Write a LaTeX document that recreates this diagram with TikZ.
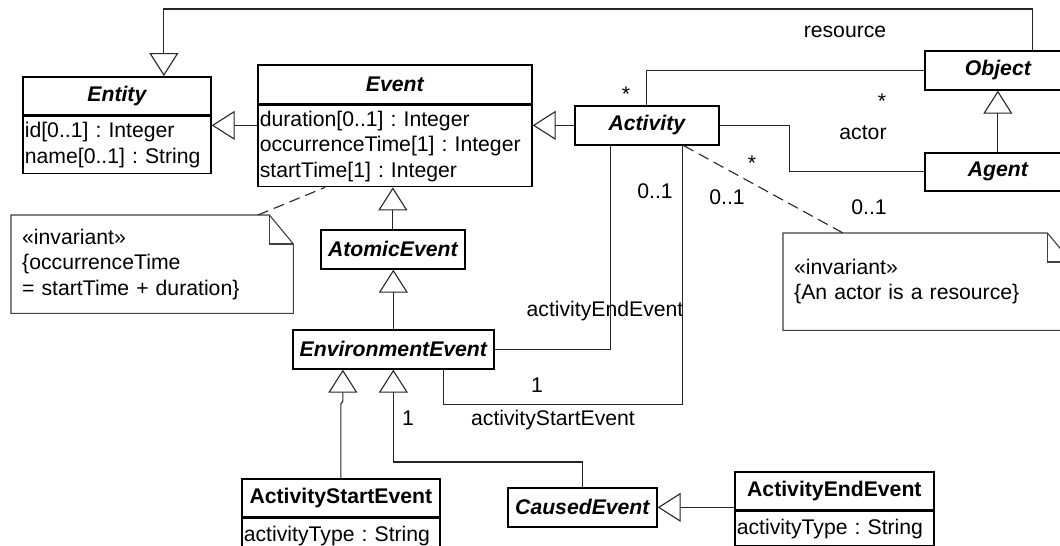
\documentclass[tikz,border=0pt]{standalone}
\usepackage{fontspec}
\setmainfont{Liberation Sans}
\usetikzlibrary{arrows.meta,calc}
\frenchspacing
\begin{document}
\begin{tikzpicture}[x=1pt,y=-1pt,
  every node/.style={font=\fontsize{21.2}{25.5}\selectfont\frenchspacing, inner sep=0pt},
  abstr/.style={draw, line width=1.7pt, anchor=north west,
    font=\fontsize{21.2}{25.5}\selectfont\bfseries\itshape},
  concr/.style={draw, line width=1.7pt, anchor=north west,
    font=\fontsize{21.2}{25.5}\selectfont\bfseries},
  attrs/.style={draw, line width=1.7pt, anchor=north west, align=left,
    inner xsep=2pt},
  notebox/.style={anchor=north west, align=left, inner xsep=11pt},
  noteline/.style={draw=black!75, line width=1.1pt},
  link/.style={draw=black!85, line width=1.1pt},
  gen/.style={link, -{Triangle[open,length=23pt,width=29pt]}},
  anchorline/.style={link, dash pattern=on 11pt off 6pt}
]
\fill[white] (0,0) rectangle (1060,546);
\useasboundingbox (0,0) rectangle (1060,546);
\clip (0,0) rectangle (1060,546);

% ---- classes ----
\node[abstr, minimum width=188pt, minimum height=38pt] (entity) at (22,76) {Entity};
\node[attrs, minimum width=188pt, minimum height=57pt, text width=184pt]
  (entityattr) at (entity.south west) {id[0..1] : Integer\\name[0..1] : String};

\node[abstr, minimum width=274pt, minimum height=39pt] (event) at (257,64) {Event};
\node[attrs, minimum width=274pt, minimum height=81pt, text width=270pt]
  (eventattr) at (event.south west)
  {duration[0..1] : Integer\\occurrenceTime[1] : Integer\\startTime[1] : Integer};

\node[abstr, minimum width=144pt, minimum height=39pt] (activity) at (574,105) {Activity};
\node[abstr, minimum width=146pt, minimum height=39pt] (object) at (924,50) {Object};
\node[abstr, minimum width=146pt, minimum height=38pt] (agent) at (924,152) {Agent};
\node[abstr, minimum width=144pt, minimum height=39pt] (atomic) at (320,229) {AtomicEvent};
\node[abstr, minimum width=201pt, minimum height=39pt] (env) at (292,329) {EnvironmentEvent};
\node[abstr, minimum width=149pt, minimum height=39pt] (caused) at (507,487) {CausedEvent};

\node[concr, minimum width=198pt, minimum height=38pt] (ase) at (241,478) {ActivityStartEvent};
\node[attrs, minimum width=198pt, minimum height=34pt, text width=194pt]
  (aseattr) at (ase.south west) {activityType : String};

\node[concr, minimum width=199pt, minimum height=38pt] (aee) at (734,471) {ActivityEndEvent};
\node[attrs, minimum width=199pt, minimum height=34pt, text width=195pt]
  (aeeattr) at (aee.south west) {activityType : String};

% ---- notes ----
\node[notebox, minimum width=282pt, minimum height=98pt, text width=260pt]
  (note1) at (11,215) {«invariant»\\\{occurrenceTime\\= startTime + duration\}};
\draw[noteline] (note1.north west) -- ([xshift=-24pt]note1.north east)
  -- ([yshift=-29pt]note1.north east) -- (note1.south east)
  -- (note1.south west) -- cycle;
\draw[noteline] ([xshift=-24pt]note1.north east) |- ([yshift=-29pt]note1.north east);

\node[notebox, minimum width=288pt, minimum height=97pt, text width=266pt]
  (note2) at (783,233) {«invariant»\\\{An actor is a resource\}};
\draw[noteline] (note2.north west) -- ([xshift=-24pt]note2.north east)
  -- ([yshift=-29pt]note2.north east) -- (note2.south east)
  -- (note2.south west) -- cycle;
\draw[noteline] ([xshift=-24pt]note2.north east) |- ([yshift=-29pt]note2.north east);

% ---- generalizations ----
\draw[gen] (activity.west -| eventattr.west) -- (activity.west -| entityattr.east);
\draw[gen] (activity.west) -- (activity.west -| eventattr.east);
\draw[gen] ([xshift=35pt]object.north) -- ++(0,-41) -| ([xshift=47pt]entity.north);
\draw[gen] (agent.north) -- (object.south);
\draw[gen] (atomic.north) -- (atomic.north |- eventattr.south);
\draw[gen] (env.north) -- (env.north |- atomic.south);
\draw[gen] (ase.north) -- ++(0,-74) -- ++(2,-3) -- ([xshift=2pt]ase.north |- env.south);
\draw[gen] (caused.north) -- ++(0,-25) -| (env.south);
\draw[gen] (caused.east -| aee.west) -- (caused.east);

% ---- associations ----
\draw[link] (activity.north) |- (object.west);
\draw[link] (activity.east) -- ++(70,0) |- (agent.west);
\draw[link] ([xshift=-36pt]activity.south) |- (env.east);
\draw[link] ([xshift=50pt]env.south) -- ++(0,35) -| ([xshift=36pt]activity.south);

% ---- note anchors ----
\draw[anchorline] ([xshift=37pt]activity.south) -- ([xshift=60pt]note2.north west);
\draw[anchorline] ([xshift=247pt]note1.north west) -- ([xshift=68pt]eventattr.south west);

% ---- end labels ----
\node (lresource) at (845,32) {resource};
\node (lstar1) at (626,94) {*};
\node (lstar2) at (882,101) {*};
\node (lactor) at (863,133) {actor};
\node (lstar3) at (752,163) {*};
\node (lm1) at (655,191) {0..1};
\node (lm2) at (727,197) {0..1};
\node (lm3) at (869,207) {0..1};
\node (lend) at (605,311) {activityEndEvent};
\node (lone1) at (537,385) {1};
\node (lstart) at (553,420) {activityStartEvent};
\node (lone2) at (408,418) {1};
\end{tikzpicture}
\end{document}
